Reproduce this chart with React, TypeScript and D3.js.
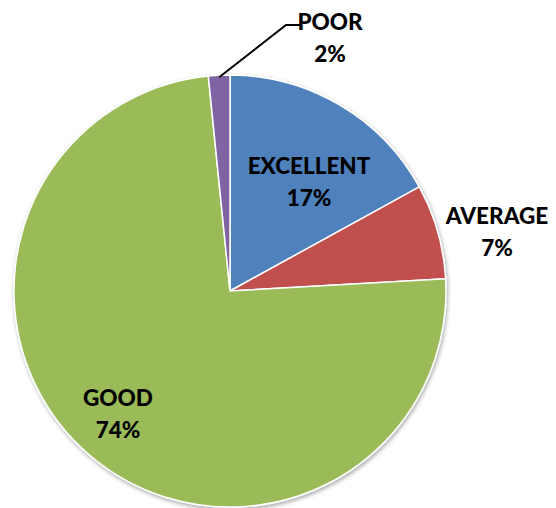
import React from "react";
import * as d3 from "d3";

const categories = ["EXCELLENT", "AVERAGE", "GOOD", "POOR"];
const values = [17, 7.1, 74.3, 1.6];
const percentLabels = ["17%", "7%", "74%", "2%"];
const colors = ["#4F81BD", "#C0504D", "#9BBB59", "#8064A2"];

const W = 556, H = 508;
const cx = 230, cy = 291, R = 216;

export default function App() {
  const pie = d3.pie<number>().sort(null).value((d) => d)(values);
  const arc = d3.arc<d3.PieArcDatum<number>>().innerRadius(0).outerRadius(R);
  const labelPos: [number, number][] = [
    [309 - cx, 166 - cy],
    [497 - cx, 216 - cy],
    [118 - cx, 398 - cy],
    [330 - cx, 22 - cy],
  ];
  const poor = pie[3];
  const midA = (poor.startAngle + poor.endAngle) / 2;
  const p0: [number, number] = [Math.sin(midA) * R, -Math.cos(midA) * R];
  return (
    <svg width={W} height={H} style={{ position: "absolute", left: 0, top: 0 }}>
      <defs>
        <filter id="sh" x="-10%" y="-10%" width="120%" height="120%">
          <feGaussianBlur in="SourceAlpha" stdDeviation="2" />
          <feOffset dx="1" dy="2" result="b" />
          <feComponentTransfer><feFuncA type="linear" slope="0.35" /></feComponentTransfer>
          <feMerge><feMergeNode /><feMergeNode in="SourceGraphic" /></feMerge>
        </filter>
      </defs>
      <rect width={W} height={H} fill="#fff" />
      <g transform={`translate(${cx},${cy})`}>
        <g filter="url(#sh)">
          {pie.map((p, i) => (
            <path key={i} d={arc(p) || ""} fill={colors[i]} stroke="#fff" strokeWidth={1.5} />
          ))}
        </g>
        <polyline
          points={`${p0[0]},${p0[1] + 2} ${286 - cx},${25 - cy} ${300 - cx},${25 - cy}`}
          fill="none" stroke="#000" strokeWidth={2}
        />
        {pie.map((p, i) => (
          <text key={i} x={labelPos[i][0]} y={labelPos[i][1]} textAnchor="middle"
            fontFamily="Lato, 'Open Sans', sans-serif" fontWeight={900} fontSize={22.5} fill="#000">
            <tspan x={labelPos[i][0]} dy="0.36em">{categories[i]}</tspan>
            <tspan x={labelPos[i][0]} dy={32}>{percentLabels[i]}</tspan>
          </text>
        ))}
      </g>
    </svg>
  );
}
